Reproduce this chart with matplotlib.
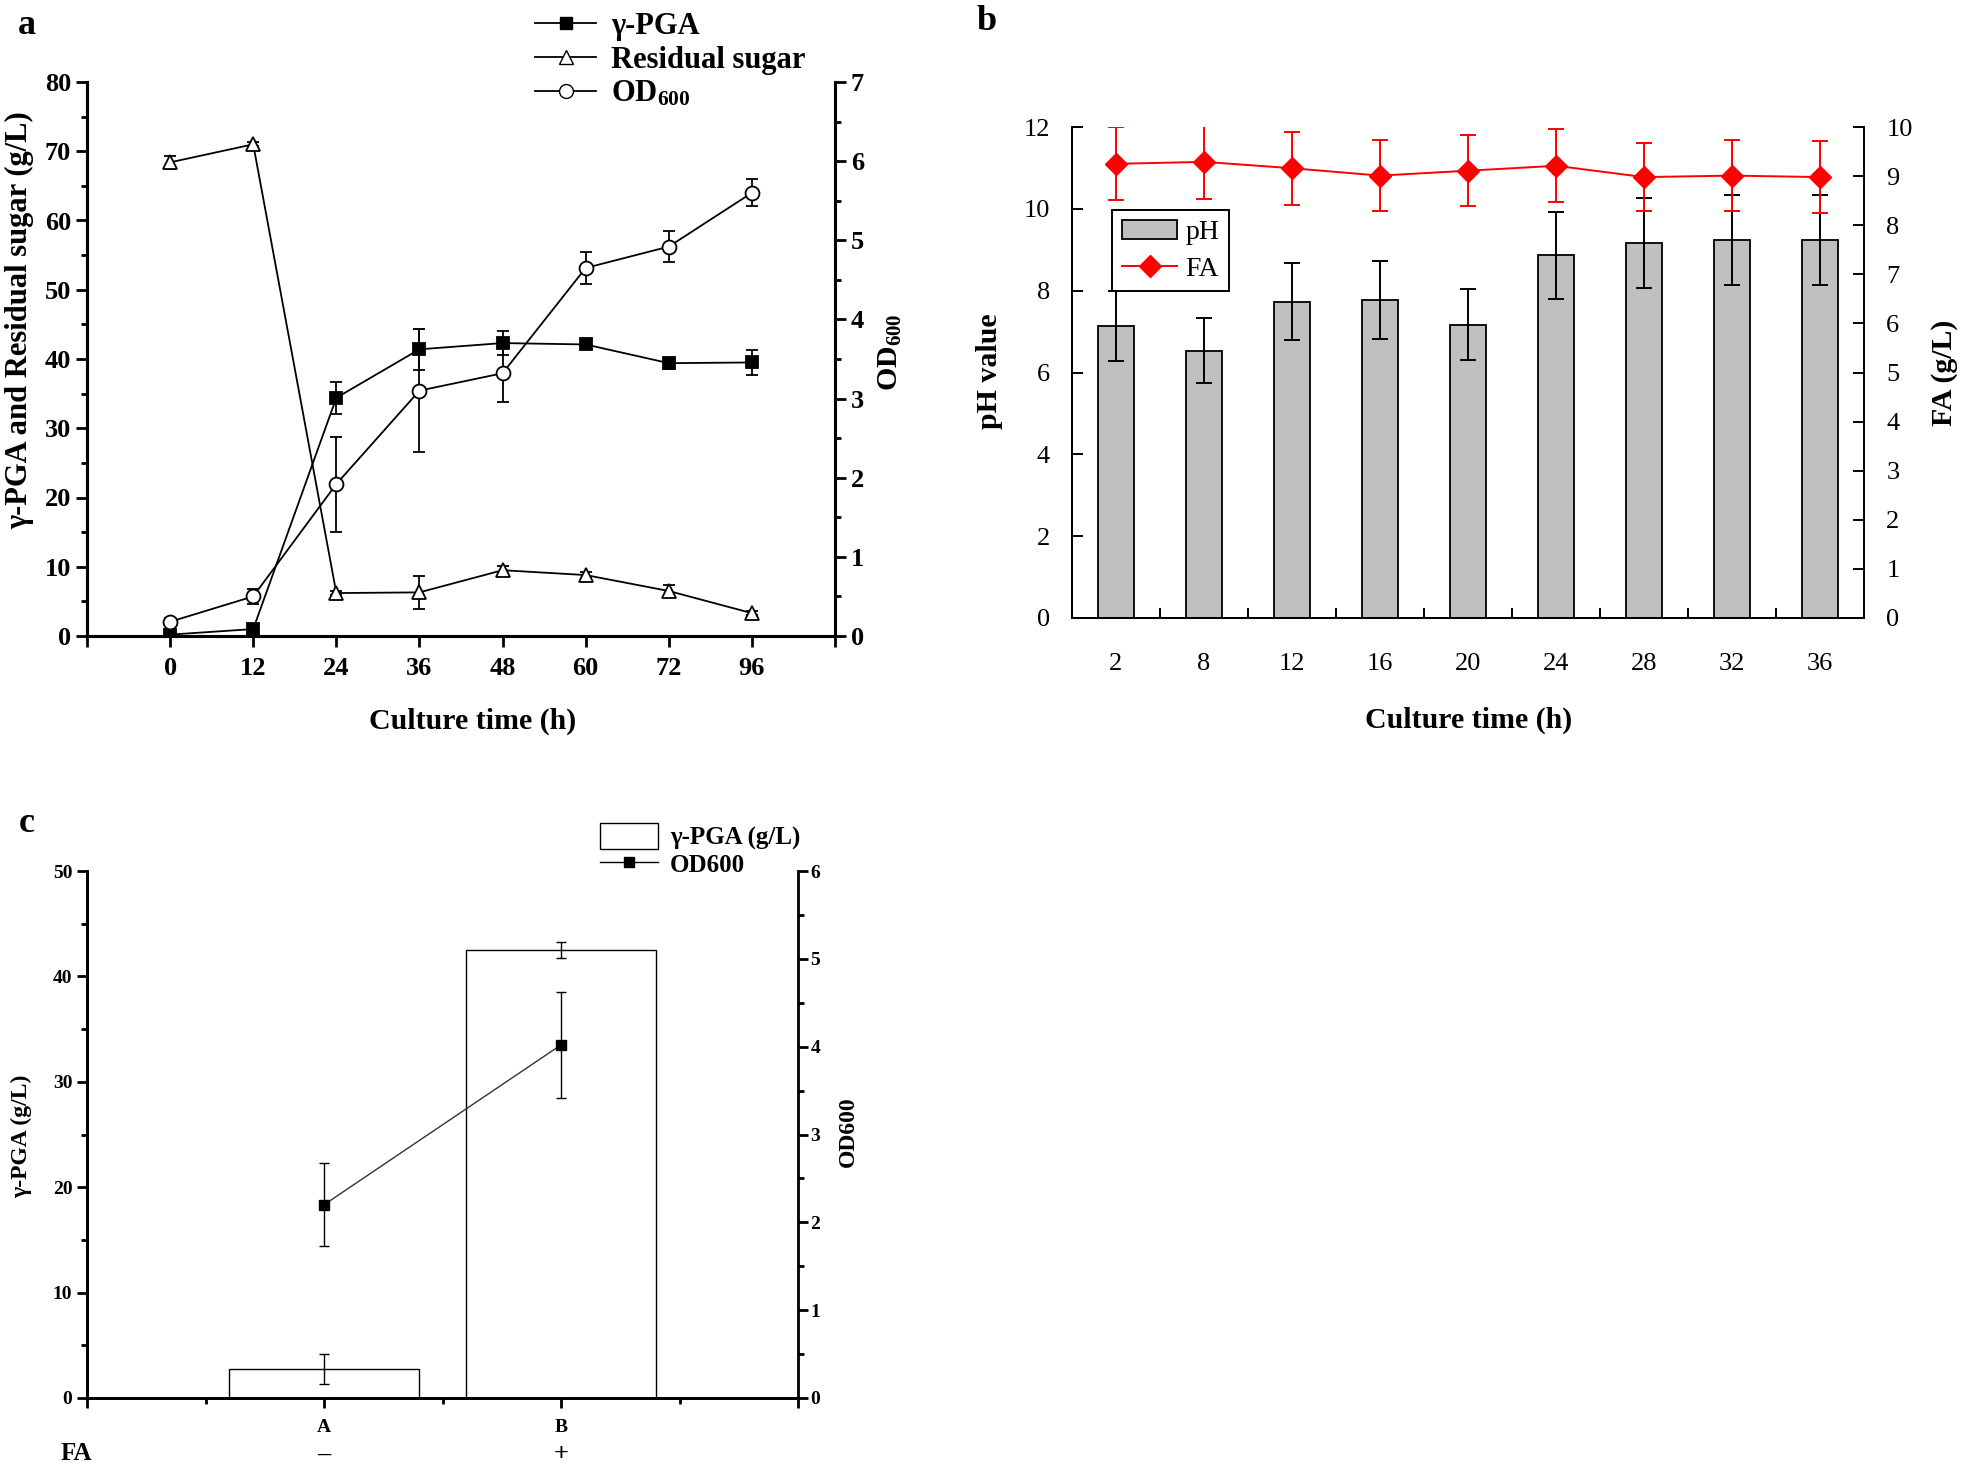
import numpy as np
import matplotlib.pyplot as plt
from matplotlib.lines import Line2D
from matplotlib.patches import Patch
from matplotlib.ticker import MultipleLocator, FixedLocator

plt.rcParams['font.family'] = ['Liberation Serif', 'DejaVu Serif']
plt.rcParams['font.weight'] = 'bold'
plt.rcParams['mathtext.fontset'] = 'custom'
plt.rcParams['mathtext.rm'] = 'Liberation Serif:bold'
plt.rcParams['mathtext.default'] = 'rm'

W, H = 1961, 1466


##### data, panel a (culture time course)

time_a = ['0', '12', '24', '36', '48', '60', '72', '96']
pga_a = [0.2, 1.0, 34.4, 41.4, 42.3, 42.1, 39.4, 39.5]
pga_a_err = [0.2, 0.3, 2.3, 3.0, 1.7, 0.3, 0.8, 1.8]
sugar_a = [68.4, 71.0, 6.2, 6.3, 9.5, 8.8, 6.5, 3.3]
sugar_a_err = [0.9, 0.3, 0.3, 2.4, 0.6, 0.4, 0.9, 0.3]
od_a = [0.18, 0.5, 1.92, 3.10, 3.32, 4.65, 4.92, 5.6]
od_a_err = [0.05, 0.1, 0.6, 0.78, 0.36, 0.2, 0.2, 0.17]

##### data, panel b (pH and FA)

time_b = ['2', '8', '12', '16', '20', '24', '28', '32', '36']
ph_b = [7.13, 6.53, 7.73, 7.77, 7.17, 8.86, 9.16, 9.25, 9.25]
ph_b_err = [0.85, 0.79, 0.94, 0.95, 0.87, 1.07, 1.1, 1.1, 1.1]
fa_b = [9.25, 9.29, 9.16, 9.01, 9.11, 9.21, 8.98, 9.01, 8.98]
fa_b_err = [0.74, 0.75, 0.74, 0.73, 0.72, 0.74, 0.70, 0.73, 0.73]

##### data, panel c (with / without FA)

groups_c = ['A', 'B']
fa_flag_c = ['–', '+']
pga_c = [2.75, 42.5]
pga_c_err = [1.44, 0.8]
od_c = [2.2, 4.02]
od_c_err = [0.47, 0.6]


def rect(l, t, r, b):
    # pixel box (left, top, right, bottom) -> figure fraction
    return [l / W, 1 - b / H, (r - l) / W, (b - t) / H]


def ftext(x, y, s, **kw):
    fig.text(x / W, 1 - y / H, s, ha='center', va='center', **kw)


fig = plt.figure(figsize=(W / 100, H / 100), dpi=100)


##### panel a

ax_a = fig.add_axes(rect(87, 82, 835, 636))
ax_a2 = ax_a.twinx()
x_a = np.arange(len(time_a))

eb = dict(color='k', lw=1.3, elinewidth=1.3, capsize=4.5, capthick=1.3, mew=1.3)
ax_a.errorbar(x_a, pga_a, yerr=pga_a_err, marker='s', ms=9, **eb)
ax_a.errorbar(x_a, sugar_a, yerr=sugar_a_err, marker='^', ms=10, mfc='white', **eb)
ax_a2.errorbar(x_a, od_a, yerr=od_a_err, marker='o', ms=10, mfc='white', **eb)

ax_a.set_xlim(-1, 8)
ax_a.set_ylim(0, 80)
ax_a2.set_ylim(0, 7)
ax_a.set_xticks(np.arange(-1, 9))
ax_a.set_xticklabels([''] + time_a + [''])
ax_a.yaxis.set_major_locator(MultipleLocator(10))
ax_a.yaxis.set_minor_locator(MultipleLocator(5))
ax_a2.yaxis.set_major_locator(MultipleLocator(1))
ax_a2.yaxis.set_minor_locator(MultipleLocator(0.5))

for ax in (ax_a, ax_a2):
    ax.spines['top'].set_visible(False)
    for s in ax.spines.values():
        s.set_linewidth(2.2)
ax_a.spines['right'].set_visible(False)
ax_a.tick_params(axis='both', which='major', direction='out', length=8, width=2, labelsize=19)
ax_a.tick_params(axis='y', which='minor', direction='out', length=4.5, width=2)
ax_a.tick_params(axis='x', pad=7)
ax_a2.tick_params(axis='y', which='major', direction='out', length=8, width=2, labelsize=19)
ax_a2.tick_params(axis='y', which='minor', direction='out', length=4.5, width=2)

h_a = [Line2D([], [], color='k', lw=1.3, marker='s', ms=9),
       Line2D([], [], color='k', lw=1.3, marker='^', ms=10, mfc='white'),
       Line2D([], [], color='k', lw=1.3, marker='o', ms=10, mfc='white')]
fig.legend(h_a, ['γ-PGA', 'Residual sugar', 'OD$_{600}$'], loc='upper left',
           bbox_to_anchor=(535 / W, 1 - 12 / H), frameon=False, borderpad=0,
           borderaxespad=0, handlelength=2.0, handletextpad=0.5, labelspacing=0.15,
           prop=dict(size=22, weight='bold'))

ftext(27, 26, 'a', fontsize=26, fontweight='bold')
ftext(473, 721, 'Culture time (h)', fontsize=21.5, fontweight='bold')
ftext(20, 320, 'γ-PGA and Residual sugar (g/L)', fontsize=22, fontweight='bold', rotation=90)
ftext(890, 352, 'OD$_{600}$', fontsize=21.5, fontweight='bold', rotation=90)


##### panel b

ax_b = fig.add_axes(rect(1072, 127, 1864, 618))
ax_b2 = ax_b.twinx()
x_b = np.arange(len(time_b))

ax_b.bar(x_b, ph_b, width=0.4, color='#c0c0c0', edgecolor='k', lw=1.3,
         yerr=ph_b_err, error_kw=dict(ecolor='k', elinewidth=1.4, capsize=6, capthick=1.4))
ax_b2.errorbar(x_b, fa_b, yerr=fa_b_err, color='red', marker='D', ms=11, lw=1.4,
               elinewidth=1.4, capsize=6, capthick=1.4)

ax_b.set_xlim(-0.5, 8.5)
ax_b.set_ylim(0, 12)
ax_b2.set_ylim(0, 10)
ax_b.set_xticks(x_b)
ax_b.set_xticklabels(time_b)
ax_b.xaxis.set_minor_locator(FixedLocator(np.arange(0.5, 8, 1)))
ax_b.yaxis.set_major_locator(MultipleLocator(2))
ax_b2.yaxis.set_major_locator(MultipleLocator(1))

for ax in (ax_b, ax_b2):
    ax.spines['top'].set_visible(False)
    for s in ax.spines.values():
        s.set_linewidth(1.4)
ax_b.spines['right'].set_visible(False)
ax_b.tick_params(axis='x', which='major', length=0, pad=25, labelsize=19)
ax_b.tick_params(axis='x', which='minor', direction='in', length=7, width=1.4)
ax_b.tick_params(axis='y', direction='in', length=8, width=1.4, pad=16, labelsize=19)
ax_b2.tick_params(axis='y', direction='in', length=8, width=1.4, pad=16, labelsize=19)
for lab in ax_b.get_xticklabels() + ax_b.get_yticklabels() + ax_b2.get_yticklabels():
    lab.set_fontweight('normal')

leg_b = fig.legend([Patch(facecolor='#c0c0c0', edgecolor='k', lw=1.3),
                    Line2D([], [], color='red', lw=1.4, marker='D', ms=11)],
                   ['pH', 'FA'], loc='upper left', bbox_to_anchor=(1112 / W, 1 - 210 / H),
                   borderaxespad=0, fancybox=False, edgecolor='k', framealpha=1,
                   borderpad=0.35, handlelength=2.0, handletextpad=0.3, labelspacing=0.4,
                   prop=dict(size=20, weight='normal'))
leg_b.get_frame().set_linewidth(1.4)

ftext(987, 21, 'b', fontsize=26, fontweight='bold')
ftext(1469, 720, 'Culture time (h)', fontsize=21.5, fontweight='bold')
ftext(989, 371, 'pH value', fontsize=21.5, fontweight='bold', rotation=90)
ftext(1945, 373, 'FA (g/L)', fontsize=21.5, fontweight='bold', rotation=90)


##### panel c

ax_c = fig.add_axes(rect(87, 871, 798, 1398))
ax_c2 = ax_c.twinx()
x_c = np.array([1, 2])

ax_c.bar(x_c, pga_c, width=0.8, color='white', edgecolor='k', lw=1.0,
         yerr=pga_c_err, error_kw=dict(ecolor='k', elinewidth=1.0, capsize=3.5, capthick=1.0))
ax_c2.errorbar(x_c, od_c, yerr=od_c_err, color='#333333', ecolor='k', marker='s', ms=7,
               mfc='k', mec='k', lw=1.0, elinewidth=1.0, capsize=3.5, capthick=1.0)

ax_c.set_xlim(0, 3)
ax_c.set_ylim(0, 50)
ax_c2.set_ylim(0, 6)
ax_c.set_xticks([0, 1, 2, 3])
ax_c.set_xticklabels([''] + groups_c + [''])
ax_c.xaxis.set_minor_locator(FixedLocator([0.5, 1.5, 2.5]))
ax_c.yaxis.set_major_locator(MultipleLocator(10))
ax_c.yaxis.set_minor_locator(MultipleLocator(5))
ax_c2.yaxis.set_major_locator(MultipleLocator(1))
ax_c2.yaxis.set_minor_locator(MultipleLocator(0.5))

for ax in (ax_c, ax_c2):
    ax.spines['top'].set_visible(False)
    for s in ax.spines.values():
        s.set_linewidth(2.0)
ax_c.spines['right'].set_visible(False)
ax_c.tick_params(axis='both', which='major', direction='out', length=7, width=2, labelsize=14)
ax_c.tick_params(axis='both', which='minor', direction='out', length=4, width=2)
ax_c.tick_params(axis='x', pad=8)
ax_c2.tick_params(axis='y', which='major', direction='out', length=7, width=2, labelsize=14, pad=2)
ax_c2.tick_params(axis='y', which='minor', direction='out', length=4, width=2)

fig.legend([Patch(facecolor='white', edgecolor='k', lw=1.0),
            Line2D([], [], color='k', lw=1.0, marker='s', ms=7)],
           ['γ-PGA (g/L)', 'OD600'], loc='upper left', bbox_to_anchor=(600 / W, 1 - 823 / H),
           frameon=False, borderpad=0, borderaxespad=0, handlelength=2.3, handleheight=1.2,
           handletextpad=0.5, labelspacing=0.05, prop=dict(size=18, weight='bold'))

ftext(27, 823, 'c', fontsize=26, fontweight='bold')
ftext(21, 1136, 'γ-PGA (g/L)', fontsize=17, fontweight='bold', rotation=90)
ftext(848, 1132, 'OD600', fontsize=17, fontweight='bold', rotation=90)
ftext(76, 1454, 'FA', fontsize=18, fontweight='bold')
for xi, flag in zip(x_c, fa_flag_c):
    xp = ax_c.transData.transform((xi, 0))[0]
    ftext(xp, 1454, flag, fontsize=19, fontweight='bold')

fig.savefig('out.png', dpi=100)
